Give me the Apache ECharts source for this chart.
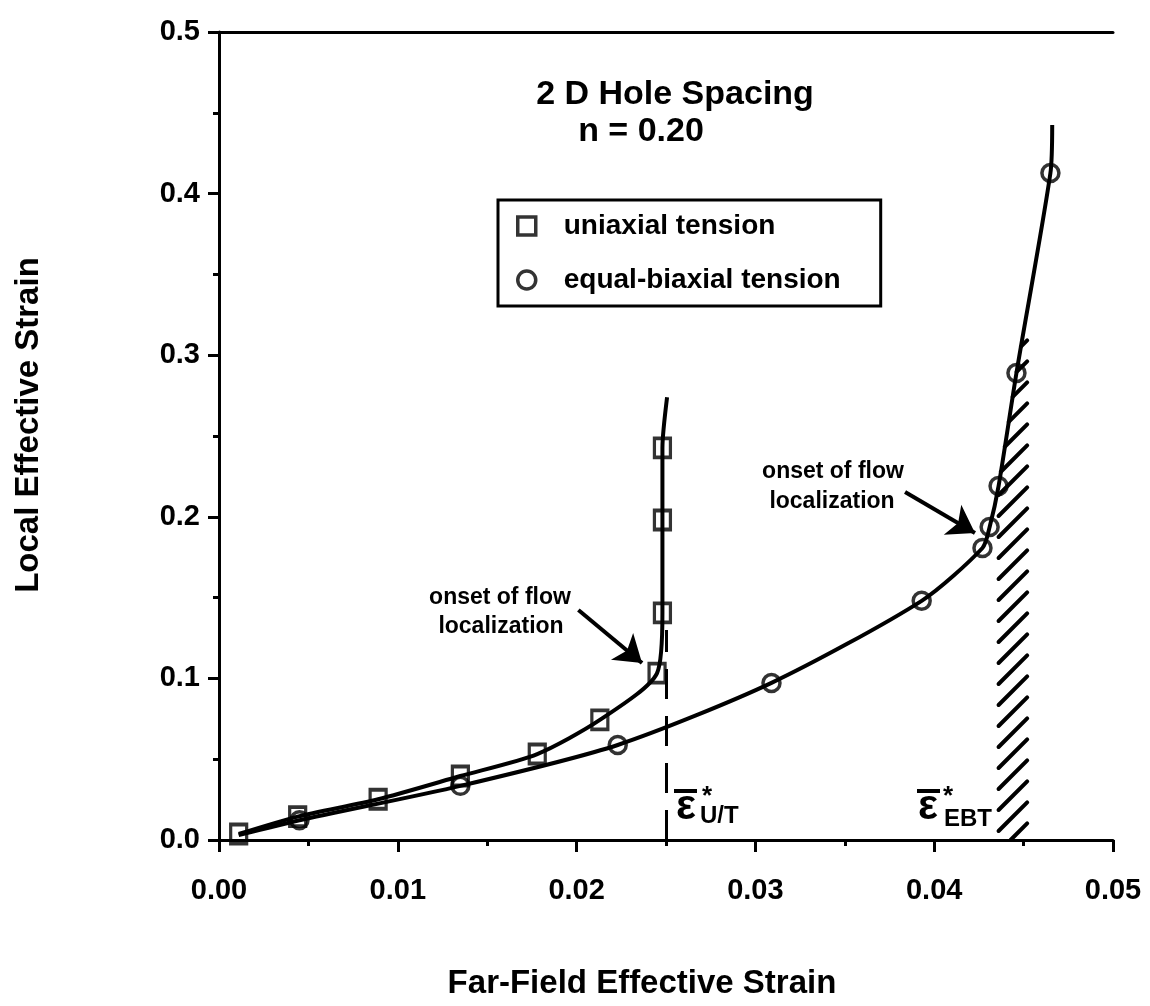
<!DOCTYPE html>
<html><head><meta charset="utf-8">
<script src="https://cdn.jsdelivr.net/npm/echarts@6/dist/echarts.min.js"></script>
<style>html,body{margin:0;padding:0;background:#fff}#c{width:1150px;height:1006px}</style>
</head><body><div id="c"></div>
<script>
// ---- data ----
const uniX = [0.0011, 0.0044, 0.0089, 0.0135, 0.0178, 0.0213, 0.0245, 0.0248, 0.0248, 0.0248];
const uniY = [0.0037, 0.0145, 0.0252, 0.0396, 0.0532, 0.0743, 0.1033, 0.1405, 0.198, 0.2426];
const uniLineEnd = [0.02506, 0.274];
const ebtX = [0.0045, 0.0135, 0.0223, 0.0309, 0.0393, 0.0427, 0.0431, 0.0436, 0.0446, 0.0465];
const ebtY = [0.0122, 0.0335, 0.0588, 0.0972, 0.148, 0.1807, 0.1937, 0.219, 0.289, 0.4127];
const ebtLineStart = [0.0011, 0.003];
const ebtLineEnd = [0.0466, 0.4425];
const xTickLabels = ['0.00', '0.01', '0.02', '0.03', '0.04', '0.05'];
const yTickLabels = ['0.0', '0.1', '0.2', '0.3', '0.4', '0.5'];
const hatchX = [0.0436, 0.0452, 0.0452, 0.0450, 0.0446, 0.0436];
const hatchY = [0, 0, 0.315, 0.315, 0.289, 0.219];
const dashUT = [[0.025, 0], [0.025, 0.13]];
const arrowLeft = [[0.0201, 0.1423], [0.02366, 0.1095]];
const arrowRight = [[0.03837, 0.2153], [0.04228, 0.19]];

const FF = "'Liberation Sans', Arial, Helvetica, sans-serif";
const uniMarks = uniX.map((x, i) => [x, uniY[i]]);
const ebtMarks = ebtX.map((x, i) => [x, ebtY[i]]);
const uniLine = uniMarks.concat([uniLineEnd]);
const ebtLine = [ebtLineStart].concat(ebtMarks, [ebtLineEnd]);

const chart = echarts.init(document.getElementById('c'), null, {renderer: 'canvas'});

function hatchRender(params, api) {
  const pts = hatchX.map((x, i) => api.coord([x, hatchY[i]]));
  const n = pts.length;
  const cs = pts.map(p => p[0] + p[1]);
  const cmin = Math.min.apply(null, cs), cmax = Math.max.apply(null, cs);
  const bl = api.coord([hatchX[0], 0]);
  const step = 21;
  const cRef = bl[0] + 12 + bl[1];
  const children = [];
  let c = cRef - Math.floor((cRef - cmin) / step) * step;
  for (; c <= cmax; c += step) {
    const xs = [];
    for (let i = 0; i < n; i++) {
      const p = pts[i], q = pts[(i + 1) % n];
      const f1 = p[0] + p[1] - c, f2 = q[0] + q[1] - c;
      if ((f1 < 0 && f2 >= 0) || (f1 >= 0 && f2 < 0)) {
        const t = f1 / (f1 - f2);
        xs.push(p[0] + t * (q[0] - p[0]));
      }
    }
    xs.sort((a, b) => a - b);
    for (let k = 0; k + 1 < xs.length; k += 2) {
      children.push({type: 'line', shape: {x1: xs[k], y1: c - xs[k], x2: xs[k + 1], y2: c - xs[k + 1]},
        style: {stroke: '#000', lineWidth: 4, lineCap: 'round'}});
    }
  }
  return {type: 'group', children: children};
}

const tickFont = {fontSize: 29, fontWeight: 'bold', color: '#000', fontFamily: FF};
const axisBase = {
  axisLine: {show: true, onZero: false, lineStyle: {color: '#000', width: 3}},
  splitLine: {show: false},
  minorSplitLine: {show: false}
};

chart.setOption({
  animation: false,
  backgroundColor: '#fff',
  grid: {left: 219, right: 37, top: 32, bottom: 166},
  legend: {
    orient: 'vertical', left: 498, top: 200,
    selectedMode: false,
    data: [{name: 'uniaxial tension', icon: 'rect'}, {name: 'equal-biaxial tension', icon: 'circle'}],
    itemWidth: 18, itemHeight: 18, itemGap: 26,
    padding: [12, 40, 12, 18],
    borderColor: '#000', borderWidth: 3,
    itemStyle: {color: 'rgba(0,0,0,0)', borderColor: '#000', borderWidth: 3.5},
    textStyle: {fontSize: 28, fontWeight: 'bold', color: '#000', fontFamily: FF, padding: [0, 0, 0, 23]}
  },
  xAxis: [
    Object.assign({
      type: 'value', min: 0, max: 0.05, interval: 0.01, position: 'bottom',
      axisTick: {show: true, length: 12, lineStyle: {color: '#000', width: 3}},
      minorTick: {show: true, splitNumber: 2, length: 6, lineStyle: {color: '#000', width: 3}},
      axisLabel: Object.assign({margin: 36, formatter: v => xTickLabels[Math.round(v / 0.01)]}, tickFont)
    }, axisBase),
    Object.assign({
      type: 'value', min: 0, max: 0.05, position: 'top',
      axisTick: {show: false}, axisLabel: {show: false}
    }, axisBase)
  ],
  yAxis: Object.assign({
    type: 'value', min: 0, max: 0.5, interval: 0.1,
    axisTick: {show: true, length: 11, lineStyle: {color: '#000', width: 3}},
    minorTick: {show: true, splitNumber: 2, length: 6, lineStyle: {color: '#000', width: 3}},
    axisLabel: Object.assign({margin: 19, formatter: v => yTickLabels[Math.round(v / 0.1)]}, tickFont)
  }, axisBase),
  series: [
    {
      name: 'uni-curve', type: 'line', data: uniLine, smooth: 0.25, showSymbol: false, silent: true,
      lineStyle: {color: '#000', width: 4}, z: 3,
      markLine: {
        silent: true, animation: false,
        label: {show: false},
        lineStyle: {color: '#000', width: 4, type: 'solid'},
        symbolSize: 26,
        data: [
          [{coord: arrowLeft[0], symbol: 'none'}, {coord: arrowLeft[1], symbol: 'arrow'}],
          [{coord: arrowRight[0], symbol: 'none'}, {coord: arrowRight[1], symbol: 'arrow'}],
          [{coord: dashUT[0], symbol: 'none', lineStyle: {type: [30, 17], width: 3}}, {coord: dashUT[1], symbol: 'none'}]
        ]
      }
    },
    {
      name: 'ebt-curve', type: 'line', data: ebtLine, smooth: 0.25, showSymbol: false, silent: true,
      lineStyle: {color: '#000', width: 4}, z: 3
    },
    {
      name: 'uniaxial tension', type: 'scatter', data: uniMarks, symbol: 'rect', symbolSize: [16, 19],
      itemStyle: {color: 'rgba(0,0,0,0)', borderColor: '#000', borderWidth: 3.5}, z: 4
    },
    {
      name: 'equal-biaxial tension', type: 'scatter', data: ebtMarks, symbol: 'circle', symbolSize: 17,
      itemStyle: {color: 'rgba(0,0,0,0)', borderColor: '#000', borderWidth: 3.5}, z: 4
    },
    {
      name: 'hatch', type: 'custom', data: [[hatchX[0], 0]], renderItem: hatchRender, silent: true, z: 2
    }
  ],
  graphic: [
    {type: 'text', x: 675, y: 95, style: {text: '2 D Hole Spacing', font: 'bold 34px ' + FF, fill: '#000', align: 'center', verticalAlign: 'middle'}},
    {type: 'text', x: 641, y: 132, style: {text: 'n = 0.20', font: 'bold 34px ' + FF, fill: '#000', align: 'center', verticalAlign: 'middle'}},
    {type: 'text', x: 29, y: 425, rotation: Math.PI / 2, style: {text: 'Local Effective Strain', font: 'bold 33px ' + FF, fill: '#000', align: 'center', verticalAlign: 'middle'}},
    {type: 'text', x: 642, y: 984, style: {text: 'Far-Field Effective Strain', font: 'bold 33px ' + FF, fill: '#000', align: 'center', verticalAlign: 'middle'}},
    {type: 'text', x: 500, y: 598, style: {text: 'onset of flow', font: 'bold 23px ' + FF, fill: '#000', align: 'center', verticalAlign: 'middle'}},
    {type: 'text', x: 501, y: 627, style: {text: 'localization', font: 'bold 23px ' + FF, fill: '#000', align: 'center', verticalAlign: 'middle'}},
    {type: 'text', x: 833, y: 472, style: {text: 'onset of flow', font: 'bold 23px ' + FF, fill: '#000', align: 'center', verticalAlign: 'middle'}},
    {type: 'text', x: 832, y: 502, style: {text: 'localization', font: 'bold 23px ' + FF, fill: '#000', align: 'center', verticalAlign: 'middle'}},
    // epsilon U/T
    {type: 'text', x: 686, y: 807, style: {text: 'ε', font: 'bold 42px ' + FF, fill: '#000', align: 'center', verticalAlign: 'middle'}},
    {type: 'rect', shape: {x: 674, y: 789, width: 23, height: 4}, style: {fill: '#000'}},
    {type: 'text', x: 707, y: 797, style: {text: '*', font: 'bold 26px ' + FF, fill: '#000', align: 'center', verticalAlign: 'middle'}},
    {type: 'text', x: 700, y: 816, style: {text: 'U/T', font: 'bold 24px ' + FF, fill: '#000', align: 'left', verticalAlign: 'middle'}},
    // epsilon EBT
    {type: 'text', x: 928, y: 807, style: {text: 'ε', font: 'bold 42px ' + FF, fill: '#000', align: 'center', verticalAlign: 'middle'}},
    {type: 'rect', shape: {x: 917, y: 789, width: 23, height: 4}, style: {fill: '#000'}},
    {type: 'text', x: 948, y: 797, style: {text: '*', font: 'bold 26px ' + FF, fill: '#000', align: 'center', verticalAlign: 'middle'}},
    {type: 'text', x: 944, y: 819, style: {text: 'EBT', font: 'bold 24px ' + FF, fill: '#000', align: 'left', verticalAlign: 'middle'}}
  ]
});
</script>
</body></html>
